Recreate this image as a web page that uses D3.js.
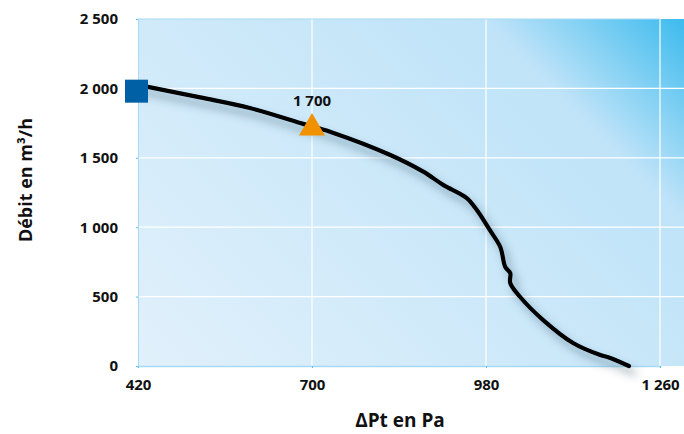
<!DOCTYPE html>
<html>
<head>
<meta charset="utf-8">
<script src="https://cdn.jsdelivr.net/npm/d3@7"></script>
<style>
  body { margin: 0; background: #fff; }
  svg { display: block; font-family: "Open Sans", sans-serif; }
</style>
</head>
<body>
<div id="chart"></div>
<script>
// Courbe débit / pression
const pressure = [420, 520, 600, 681, 730, 826, 879, 911, 949, 965, 986, 1003, 1011, 1019, 1019, 1035, 1072, 1120, 1164, 1180, 1210]
const flow     = [2025, 1935, 1859, 1751, 1686, 1520, 1400, 1305, 1210, 1125, 980, 857, 713, 670, 598, 497, 331, 166, 79, 58, 0]

const x_ticks = [420, 700, 980, 1260]
const y_ticks = [0, 500, 1000, 1500, 2000, 2500]

// Points remarquables
const square_pt = [420, 1980]
const triangle_pt = [700, 1700]
const triangle_label = "1 700"

const W = 684, H = 434
const margin = {top: 19, right: 24, bottom: 68, left: 138}
const plot_w = 660 - margin.left
const plot_h = H - margin.bottom - margin.top

const fr = d3.formatLocale({decimal: ",", thousands: " ", grouping: [3], currency: ["", " €"]})
const fmt = fr.format(",d")

var x = d3.scaleLinear().domain([420, 1260]).range([margin.left, margin.left + plot_w])
var y = d3.scaleLinear().domain([0, 2500]).range([margin.top + plot_h, margin.top])

var svg = d3.select("#chart").append("svg")
    .attr("width", W)
    .attr("height", H)

var defs = svg.append("defs")
var grad = defs.append("linearGradient")
    .attr("id", "bg")
    .attr("gradientUnits", "userSpaceOnUse")
    .attr("x1", 138).attr("y1", 366)
    .attr("x2", 584).attr("y2", -80)
grad.append("stop").attr("offset", 0).attr("stop-color", "#e1f0fb")
grad.append("stop").attr("offset", 0.5).attr("stop-color", "#cbe8f9")
grad.append("stop").attr("offset", 0.78).attr("stop-color", "#bfe3f8")
grad.append("stop").attr("offset", 1).attr("stop-color", "#3dbbee")

var shadow = defs.append("filter")
    .attr("id", "shadow")
    .attr("x", "-20%").attr("y", "-20%")
    .attr("width", "140%").attr("height", "140%")
shadow.append("feDropShadow")
    .attr("dx", 5).attr("dy", 7)
    .attr("stdDeviation", 4)
    .attr("flood-color", "#2f4f63")
    .attr("flood-opacity", 0.5)

// fond
svg.append("rect")
    .attr("x", margin.left)
    .attr("y", margin.top)
    .attr("width", W - margin.left)
    .attr("height", plot_h)
    .attr("fill", "url(#bg)")

// grille
svg.append("g").selectAll("line.h")
    .data(y_ticks.filter(d => d > 0 && d < 2500))
    .join("line")
    .attr("x1", margin.left).attr("x2", W)
    .attr("y1", d => y(d)).attr("y2", d => y(d))
    .attr("stroke", "#ffffff").attr("stroke-width", 1.2)

svg.append("g").selectAll("line.v")
    .data(x_ticks.slice(1))
    .join("line")
    .attr("x1", d => x(d)).attr("x2", d => x(d))
    .attr("y1", margin.top).attr("y2", margin.top + plot_h)
    .attr("stroke", "#ffffff").attr("stroke-width", 1.2)

// cadre
const axis_col = "#a6daf4"
svg.append("line")
    .attr("x1", margin.left).attr("x2", x(1260))
    .attr("y1", y(2500)).attr("y2", y(2500))
    .attr("stroke", axis_col).attr("stroke-width", 1.2)

var xAxis = svg.append("g")
    .attr("transform", "translate(0," + y(0) + ")")
    .call(d3.axisBottom(x).tickValues(x_ticks).tickFormat(fmt).tickSize(2).tickPadding(11))
xAxis.select(".domain").attr("stroke", axis_col).attr("stroke-width", 1.5)
xAxis.selectAll(".tick line").attr("stroke", "#5bc0ee")
xAxis.selectAll(".tick text")
    .attr("font-family", "Open Sans").attr("font-weight", 700)
    .attr("font-size", 15).attr("fill", "#111")

var yAxis = svg.append("g")
    .attr("transform", "translate(" + margin.left + ",0)")
    .call(d3.axisLeft(y).tickValues(y_ticks).tickFormat(fmt).tickSize(2).tickPadding(18))
yAxis.select(".domain").attr("stroke", axis_col).attr("stroke-width", 1)
yAxis.selectAll(".tick line").attr("stroke", "#5bc0ee")
yAxis.selectAll(".tick text")
    .attr("font-family", "Open Sans").attr("font-weight", 700)
    .attr("font-size", 15).attr("fill", "#111")

// courbe
var line = d3.line()
    .x(d => x(d[0]))
    .y(d => y(d[1]))
    .curve(d3.curveCatmullRom.alpha(0.5))

svg.append("path")
    .datum(d3.zip(pressure, flow))
    .attr("d", line)
    .attr("fill", "none")
    .attr("stroke", "#000")
    .attr("stroke-width", 4.2)
    .attr("stroke-linejoin", "round")
    .attr("stroke-linecap", "round")
    .attr("filter", "url(#shadow)")

// marqueurs
svg.append("rect")
    .attr("x", x(square_pt[0]) - 13)
    .attr("y", y(square_pt[1]) - 11.5)
    .attr("width", 23).attr("height", 23)
    .attr("fill", "#0060a6")

svg.append("path")
    .attr("d", d3.symbol().type(d3.symbolTriangle).size(292)())
    .attr("transform", "translate(" + x(triangle_pt[0]) + "," + (y(triangle_pt[1]) - 2) + ")")
    .attr("fill", "#f29100")

svg.append("text")
    .attr("x", x(triangle_pt[0]))
    .attr("y", y(triangle_pt[1]) - 24)
    .attr("text-anchor", "middle")
    .attr("font-weight", 700).attr("font-size", 15)
    .attr("fill", "#111")
    .text(triangle_label)

// titres
svg.append("text")
    .attr("x", 400).attr("y", 427)
    .attr("text-anchor", "middle")
    .attr("font-weight", 700).attr("font-size", 19)
    .attr("fill", "#111")
    .text("ΔPt en Pa")

svg.append("text")
    .attr("transform", "translate(32,180) rotate(-90)")
    .attr("text-anchor", "middle")
    .attr("font-weight", 700).attr("font-size", 18)
    .attr("fill", "#111")
    .text("Débit en m³/h")
</script>
</body>
</html>
